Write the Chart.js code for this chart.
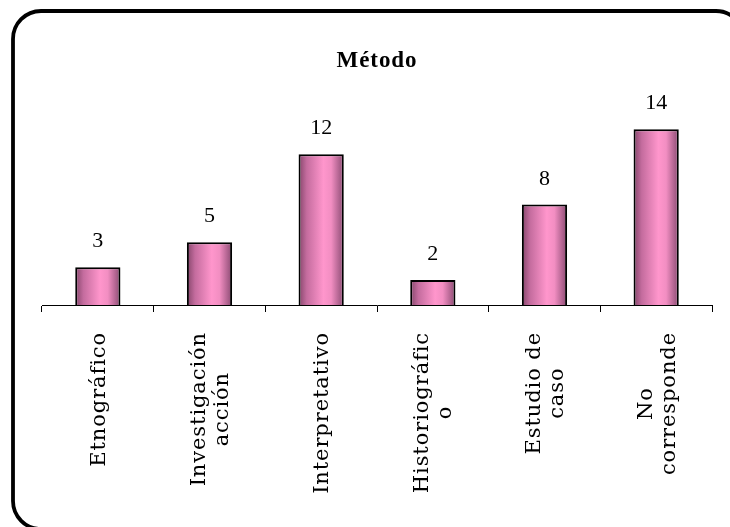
<!DOCTYPE html>
<html>
<head>
<meta charset="utf-8">
<script src="https://cdn.jsdelivr.net/npm/chart.js@4.4.0/dist/chart.umd.min.js"></script>
<style>
  html, body { margin: 0; padding: 0; background: #fff; overflow: hidden; }
  #wrap { width: 730px; height: 527px; position: relative; overflow: hidden; }
</style>
</head>
<body>
<div id="wrap"><canvas id="c" width="730" height="527"></canvas></div>
<script>
const chartTitle = 'Método';
const categories = [
  'Etnográfico',
  ['Investigación', 'acción'],
  'Interpretativo',
  ['Historiográfic', 'o'],
  ['Estudio de', 'caso'],
  ['No', 'corresponde']
];
const values = [3, 5, 12, 2, 8, 14];

const BAR_FRACTION = 0.405;
const TEXT_SPACING = '0.9px';

const frame = {
  id: 'frame',
  beforeDraw(chart) {
    const ctx = chart.ctx;
    ctx.save();
    ctx.fillStyle = '#ffffff';
    ctx.fillRect(0, 0, chart.width, chart.height);
    ctx.beginPath();
    ctx.moveTo(13, 529 - 28);
    ctx.lineTo(13, 11 + 28);
    ctx.arcTo(13, 11, 13 + 28, 11, 28);
    ctx.lineTo(716, 11);
    ctx.arcTo(744, 11, 744, 39, 28);
    ctx.moveTo(13, 529 - 28);
    ctx.arcTo(13, 529, 41, 529, 28);
    ctx.lineTo(716, 529);
    ctx.lineWidth = 3.8;
    ctx.strokeStyle = '#000';
    ctx.stroke();
    ctx.restore();
    ctx.letterSpacing = TEXT_SPACING;
  }
};

// centre the lines of each rotated label within its own block, and centre the block on its tick
const labelAlign = {
  id: 'labelAlign',
  beforeDraw(chart) {
    const scale = chart.scales.x;
    const items = scale.getLabelItems();
    if (items._aligned) return;
    const ctx = chart.ctx;
    items.forEach(item => {
      const lines = Array.isArray(item.label) ? item.label : [item.label];
      ctx.save();
      ctx.font = item.font.string;
      ctx.letterSpacing = TEXT_SPACING;
      const maxW = Math.max(...lines.map(l => ctx.measureText(l).width));
      ctx.restore();
      const lh = item.font.lineHeight;
      item.options.textAlign = 'center';
      item.options.translation[1] += maxW / 2;
      item.options.translation[0] += 1.5 - (lines.length - 1) * lh / 2;
    });
    items._aligned = true;
  }
};

const valueLabels = {
  id: 'valueLabels',
  afterDatasetsDraw(chart) {
    const ctx = chart.ctx;
    const meta = chart.getDatasetMeta(0);
    ctx.save();
    ctx.letterSpacing = '0px';
    ctx.font = '22px "Liberation Serif"';
    ctx.fillStyle = '#000';
    ctx.textAlign = 'center';
    ctx.textBaseline = 'alphabetic';
    meta.data.forEach((bar, i) => {
      ctx.fillText(String(values[i]), bar.x, bar.y - 20);
    });
    ctx.restore();
  }
};

function barGradient(context) {
  const chart = context.chart;
  const area = chart.chartArea;
  if (!area) return '#ff99cc';
  const xs = chart.scales.x;
  const cx = xs.getPixelForValue(context.dataIndex);
  const w = (area.right - area.left) / categories.length * BAR_FRACTION;
  const g = chart.ctx.createLinearGradient(cx - w / 2, 0, cx + w / 2, 0);
  g.addColorStop(0, '#84456a');
  g.addColorStop(0.18, '#c46c9e');
  g.addColorStop(0.55, '#ff96cc');
  g.addColorStop(0.72, '#f28ec2');
  g.addColorStop(1, '#8a4a72');
  return g;
}

new Chart(document.getElementById('c'), {
  type: 'bar',
  data: {
    labels: categories,
    datasets: [{
      data: values,
      backgroundColor: barGradient,
      borderColor: '#000',
      borderWidth: 2,
      borderSkipped: 'bottom',
      categoryPercentage: 1,
      barPercentage: BAR_FRACTION
    }]
  },
  options: {
    responsive: false,
    animation: false,
    devicePixelRatio: 1,
    layout: { padding: { left: 42, right: 18, top: 0, bottom: 0 } },
    plugins: {
      legend: { display: false },
      tooltip: { enabled: false },
      title: {
        display: true,
        text: chartTitle,
        color: '#000',
        font: { family: '"Liberation Serif"', size: 23, weight: 'bold', lineHeight: 1.2 },
        padding: { top: 47, bottom: 29.4 }
      }
    },
    scales: {
      y: {
        display: false,
        min: 0,
        max: 16
      },
      x: {
        afterFit(scale) { scale.height = 222; },
        border: { display: true, color: '#000', width: 1 },
        grid: {
          display: true,
          offset: true,
          drawOnChartArea: false,
          drawTicks: true,
          tickLength: 7,
          color: '#000',
          lineWidth: 1
        },
        ticks: {
          autoSkip: false,
          minRotation: 90,
          maxRotation: 90,
          padding: 20,
          color: '#000',
          font: { family: '"DejaVu Serif"', size: 21, lineHeight: 1.1 }
        }
      }
    }
  },
  plugins: [frame, labelAlign, valueLabels]
});
</script>
</body>
</html>
